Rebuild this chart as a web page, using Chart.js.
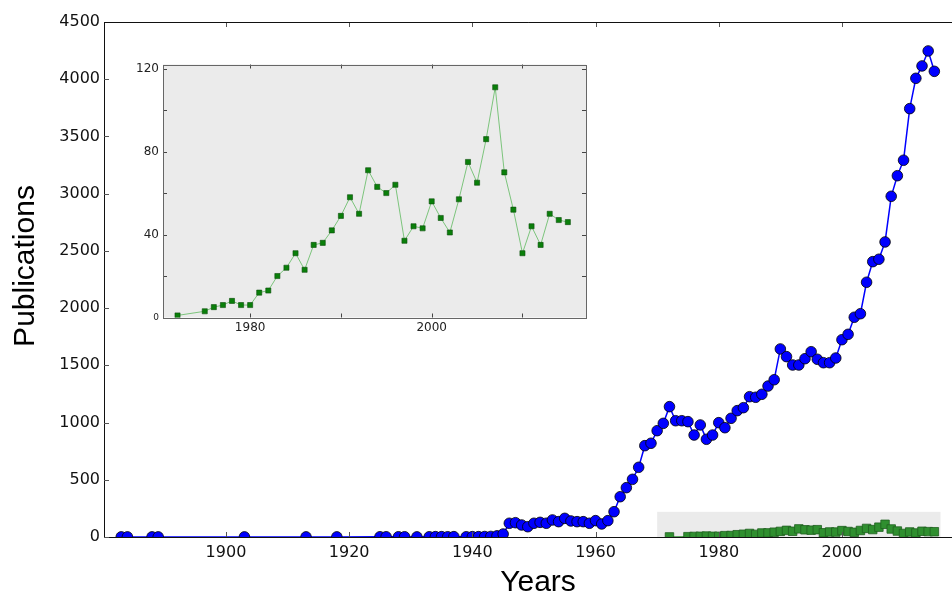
<!DOCTYPE html>
<html>
<head>
<meta charset="utf-8">
<script src="https://cdn.jsdelivr.net/npm/chart.js@4.4.1/dist/chart.umd.min.js"></script>
<style>
  html, body { margin: 0; padding: 0; background: #ffffff; overflow: hidden; }
  #wrap { position: relative; width: 952px; height: 594px; overflow: hidden; }
  #main { position: absolute; left: 0; top: 0; }
  #inset { position: absolute; left: 120px; top: 50px; }
</style>
</head>
<body>
<div id="wrap">
  <canvas id="main" width="959" height="594"></canvas>
  <canvas id="inset" width="480" height="290"></canvas>
</div>
<script>
// ---- Data ----
const pubYears = [1883,1884,1888,1889,1903,1913,1918,1925,1926,1928,1929,1931,1933,1934,1935,1936,1937,1939,1940,1941,1942,1943,1944,1945,
  1946,1947,1948,1949,1950,1951,1952,1953,1954,1955,1956,1957,1958,1959,1960,1961,1962,1963,1964,1965,1966,1967,1968,1969,
  1970,1971,1972,1973,1974,1975,1976,1977,1978,1979,1980,1981,1982,1983,1984,1985,1986,1987,1988,1989,1990,1991,1992,1993,
  1994,1995,1996,1997,1998,1999,2000,2001,2002,2003,2004,2005,2006,2007,2008,2009,2010,2011,2012,2013,2014,2015];
const pubValues = [1,1,1,1,1,1,1,2,2,2,2,1,2,3,3,2,3,2,3,3,4,5,10,26,
  120,125,105,90,120,128,120,149,134,163,140,134,134,120,143,114,143,221,352,431,504,609,798,819,
  929,993,1139,1016,1016,1008,891,979,854,891,999,955,1037,1104,1130,1226,1221,1247,1319,1374,1643,1576,1503,1503,
  1558,1619,1553,1523,1523,1564,1724,1771,1920,1951,2226,2406,2427,2578,2977,3157,3292,3743,4008,4116,4247,4069];

const subYears = [1972,1975,1976,1977,1978,1979,1980,1981,1982,1983,1984,1985,1986,1987,1988,1989,1990,1991,1992,1993,
  1994,1995,1996,1997,1998,1999,2000,2001,2002,2003,2004,2005,2006,2007,2008,2009,2010,2011,2012,2013,2014,2015];
const subValues = [1,3,5,6,8,6,6,12,13,20,24,31,23,35,36,42,49,58,50,71,
  63,60,64,37,44,43,56,48,41,57,75,65,86,111,70,52,31,44,35,50,47,46];

const mainYTicks = [0,500,1000,1500,2000,2500,3000,3500,4000,4500];
const mainXTicks = [1900,1920,1940,1960,1980,2000];
const insetYTicks = [0,20,40,60,80,100,120];
const insetYLabels = [0,40,80,120];
const insetXTicks = [1980,1990,2000,2010];
const insetXLabels = [1980,2000];
const bandRange = { x0: 1970, x1: 2016, y0: 0, y1: 220 };

const xAxisTitle = 'Years';
const yAxisTitle = 'Publications';

const toPts = (xs, ys) => xs.map((x, i) => ({ x: x, y: ys[i] }));

function drawInwardTicks(chart, len, color, withRight) {
  const { ctx, chartArea: a, scales: { x, y } } = chart;
  ctx.save();
  ctx.strokeStyle = color;
  ctx.lineWidth = 1;
  ctx.beginPath();
  x.ticks.forEach(t => {
    const px = Math.round(x.getPixelForValue(t.value)) + 0.5;
    ctx.moveTo(px, a.bottom); ctx.lineTo(px, a.bottom - len);
    ctx.moveTo(px, a.top); ctx.lineTo(px, a.top + len);
  });
  y.ticks.forEach(t => {
    const py = Math.round(y.getPixelForValue(t.value)) + 0.5;
    ctx.moveTo(a.left, py); ctx.lineTo(a.left + len, py);
    if (withRight) { ctx.moveTo(a.right, py); ctx.lineTo(a.right - len, py); }
  });
  ctx.stroke();
  ctx.restore();
}

function noPad(s) {
  s.paddingLeft = 0; s.paddingRight = 0; s.paddingTop = 0; s.paddingBottom = 0;
}

// ---- Main chart ----
const mainPlugin = {
  id: 'mainDeco',
  beforeDatasetsDraw(chart) {
    const { ctx, scales: { x, y } } = chart;
    const l = x.getPixelForValue(bandRange.x0), r = x.getPixelForValue(bandRange.x1);
    const t = y.getPixelForValue(bandRange.y1), b = y.getPixelForValue(bandRange.y0);
    ctx.save();
    ctx.fillStyle = '#ebebeb';
    ctx.fillRect(l, t, r - l, b - t);
    ctx.restore();
  },
  afterDraw(chart) {
    const { ctx, chartArea: a } = chart;
    drawInwardTicks(chart, 5, '#555', false);
    ctx.save();
    ctx.strokeStyle = '#111';
    ctx.lineWidth = 1;
    ctx.beginPath();
    ctx.moveTo(a.left, a.top + 0.5); ctx.lineTo(a.right, a.top + 0.5);
    ctx.stroke();
    ctx.fillStyle = '#000';
    ctx.font = '30px "Liberation Sans", Arial, sans-serif';
    ctx.textAlign = 'center';
    ctx.textBaseline = 'alphabetic';
    ctx.fillText(xAxisTitle, 538, 591);
    ctx.translate(34, 266);
    ctx.rotate(-Math.PI / 2);
    ctx.fillText(yAxisTitle, 0, 0);
    ctx.restore();
  }
};

new Chart(document.getElementById('main'), {
  type: 'line',
  data: {
    datasets: [
      {
        data: toPts(subYears, subValues),
        borderColor: '#2f8f2f',
        borderWidth: 1,
        backgroundColor: '#2f8f2f',
        pointStyle: 'rect',
        pointRadius: 6,
        pointHoverRadius: 0,
        pointBorderColor: '#1f5f1f',
        pointBorderWidth: 0.8,
        pointBackgroundColor: '#2f8f2f'
      },
      {
        data: toPts(pubYears, pubValues),
        borderColor: '#0000ff',
        borderWidth: 1.5,
        backgroundColor: '#0000ff',
        pointStyle: 'circle',
        pointRadius: 5.3,
        pointHoverRadius: 0,
        pointBorderColor: '#000000',
        pointBorderWidth: 0.8,
        pointBackgroundColor: '#0000ff'
      }
    ]
  },
  options: {
    responsive: false,
    animation: false,
    devicePixelRatio: 1,
    layout: { padding: { top: 22, right: 0, left: 0, bottom: 0 } },
    plugins: { legend: { display: false }, tooltip: { enabled: false } },
    elements: { line: { tension: 0 } },
    scales: {
      x: {
        type: 'linear',
        min: 1880.2,
        max: 2017.9,
        afterFit(s) { s.height = 57; noPad(s); },
        afterBuildTicks(s) { s.ticks = mainXTicks.map(v => ({ value: v })); },
        grid: { display: true, drawOnChartArea: false, drawTicks: false },
        border: { display: true, color: '#111', width: 1 },
        ticks: {
          padding: 6,
          color: '#111',
          font: { family: '"DejaVu Sans", sans-serif', size: 16 },
          callback: v => String(v)
        }
      },
      y: {
        type: 'linear',
        min: 0,
        max: 4500,
        afterFit(s) { s.width = 104; noPad(s); },
        afterBuildTicks(s) { s.ticks = mainYTicks.map(v => ({ value: v })); },
        grid: { display: true, drawOnChartArea: false, drawTicks: false },
        border: { display: true, color: '#111', width: 1 },
        ticks: {
          padding: 4,
          color: '#111',
          font: { family: '"DejaVu Sans", sans-serif', size: 16 },
          callback: v => String(v)
        }
      }
    }
  },
  plugins: [mainPlugin]
});

// ---- Inset chart ----
const insetPlugin = {
  id: 'insetDeco',
  beforeDatasetsDraw(chart) {
    const { ctx, chartArea: a } = chart;
    ctx.save();
    ctx.fillStyle = '#ebebeb';
    ctx.fillRect(a.left, a.top, a.right - a.left, a.bottom - a.top);
    ctx.restore();
  },
  afterDraw(chart) {
    const { ctx, chartArea: a } = chart;
    drawInwardTicks(chart, 4, '#444', true);
    ctx.save();
    ctx.strokeStyle = '#666';
    ctx.lineWidth = 1;
    ctx.strokeRect(Math.round(a.left) + 0.5, Math.round(a.top) + 0.5,
      Math.round(a.right - a.left), Math.round(a.bottom - a.top));
    ctx.restore();
  }
};

new Chart(document.getElementById('inset'), {
  type: 'line',
  data: {
    datasets: [{
      data: toPts(subYears, subValues),
      borderColor: '#7cc47c',
      borderWidth: 1,
      pointStyle: 'rect',
      pointRadius: 3.6,
      pointHoverRadius: 0,
      pointBorderColor: '#0b4d0b',
      pointBorderWidth: 0.6,
      pointBackgroundColor: '#0a7f0a'
    }]
  },
  options: {
    responsive: false,
    animation: false,
    devicePixelRatio: 1,
    layout: { padding: { top: 14.5, right: 14, left: 0, bottom: 0 } },
    plugins: { legend: { display: false }, tooltip: { enabled: false } },
    elements: { line: { tension: 0 } },
    scales: {
      x: {
        type: 'linear',
        min: 1970.4,
        max: 2017,
        afterFit(s) { s.height = 22.5; noPad(s); },
        afterBuildTicks(s) { s.ticks = insetXTicks.map(v => ({ value: v })); },
        grid: { display: false, drawTicks: false },
        border: { display: false },
        ticks: {
          padding: 3,
          color: '#222',
          font: { family: '"DejaVu Sans", sans-serif', size: 12 },
          callback: v => insetXLabels.includes(v) ? String(v) : ''
        }
      },
      y: {
        type: 'linear',
        min: 0,
        max: 122,
        afterFit(s) { s.width = 43; noPad(s); },
        afterBuildTicks(s) { s.ticks = insetYTicks.map(v => ({ value: v })); },
        grid: { display: false, drawTicks: false },
        border: { display: false },
        ticks: {
          padding: 4,
          color: '#222',
          font: ctx => ({ family: '"DejaVu Sans", sans-serif', size: (ctx.tick && ctx.tick.value === 0) ? 9 : 12 }),
          callback: v => insetYLabels.includes(v) ? String(v) : ''
        }
      }
    }
  },
  plugins: [insetPlugin]
});
</script>
</body>
</html>
